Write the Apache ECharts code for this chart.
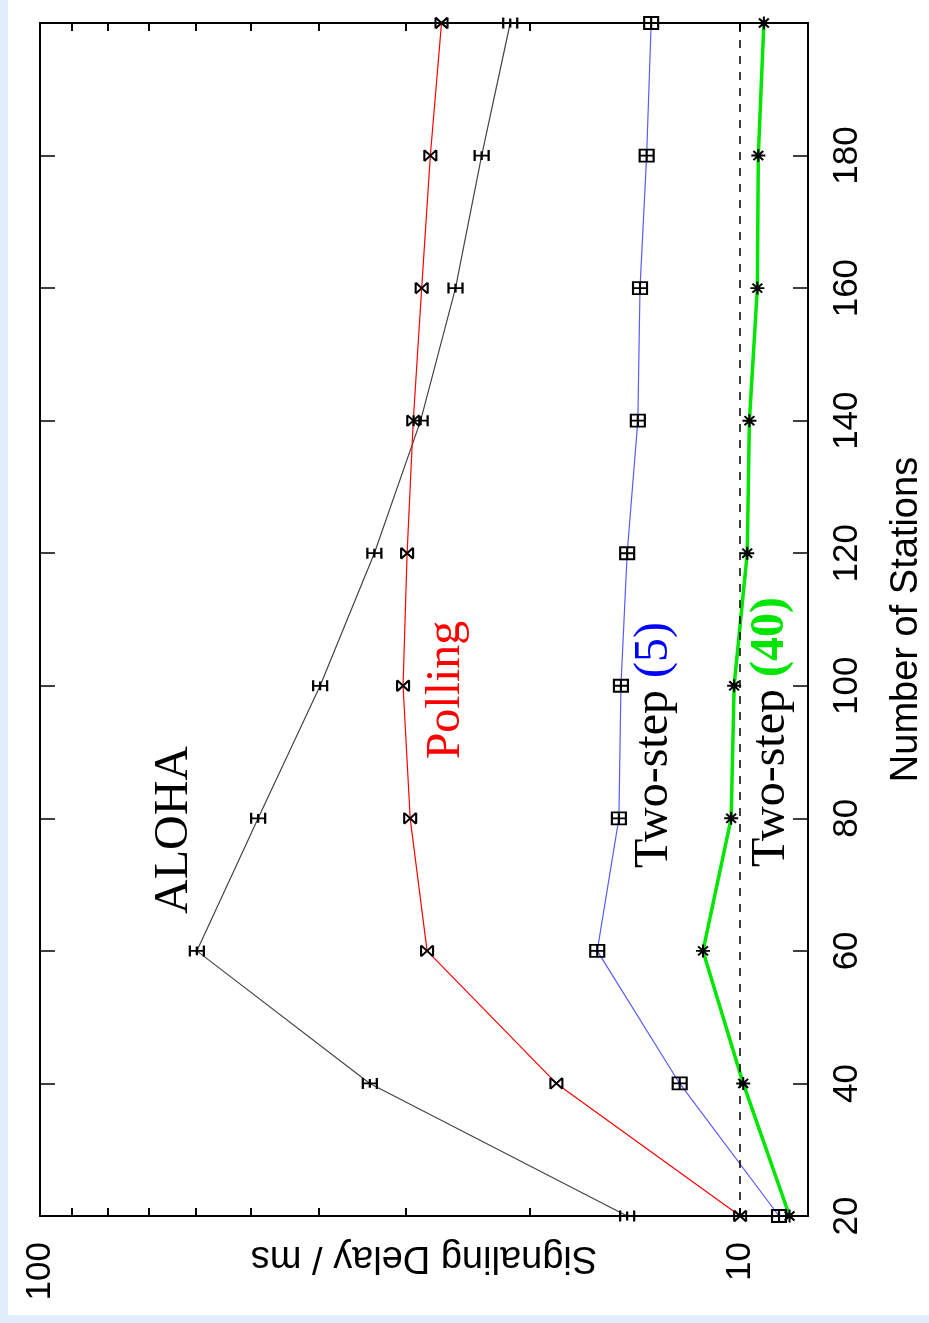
<!DOCTYPE html>
<html>
<head>
<meta charset="utf-8">
<script src="https://cdn.jsdelivr.net/npm/echarts@6/dist/echarts.min.js"></script>
<style>
  html, body { margin: 0; padding: 0; background: #fff; overflow: hidden; }
  #chart { position: absolute; left: 8px; top: 0; width: 921px; height: 1315px; background: #fff; }
  .edge { position: absolute; background: #e1effd; }
</style>
</head>
<body>
<div class="edge" style="left:0;top:0;width:8px;height:1323px"></div>
<div class="edge" style="left:0;top:1315px;width:929px;height:8px"></div>
<div id="chart"></div>
<script>
// number of stations (vertical axis in the rotated figure)
const stations = [20, 40, 60, 80, 100, 120, 140, 160, 180, 200]
// signalling delay in ms
const aloha = [14.5, 33.8, 59.7, 48.8, 39.8, 33.3, 28.6, 25.5, 23.4, 21.3]
const polling = [10.0, 18.3, 28.0, 29.6, 30.3, 29.9, 29.3, 28.5, 27.7, 26.7]
const twoStep5 = [8.8, 12.2, 16.0, 14.9, 14.8, 14.5, 14.0, 13.9, 13.6, 13.4]
const twoStep40 = [8.5, 9.9, 11.3, 10.3, 10.2, 9.77, 9.7, 9.45, 9.42, 9.25]
const delayLabels = [10, 100]
const delayTicks = [10, 20, 30, 40, 50, 60, 70, 80, 90]
const refDelay = 10

const chart = echarts.init(document.getElementById('chart'))

function pairs(values) {
  return values.map((v, i) => [v, stations[i]])
}

const markerStyle = {
  color: 'none',
  borderColor: '#000',
  borderWidth: 2,
}

function delayAxis(position, showLabel) {
  return {
    type: 'log',
    logBase: 10,
    min: 8,
    max: 100,
    inverse: true,
    position: position,
    name: showLabel ? 'Signaling Delay / ms' : '',
    nameLocation: 'middle',
    nameRotate: 180,
    nameGap: 22,
    nameMoveOverlap: false,
    nameTextStyle: {color: '#000', fontSize: 38, fontFamily: 'Liberation Sans'},
    axisLine: {show: true, lineStyle: {color: '#000', width: 2}},
    axisTick: {show: true, inside: true, length: 8, customValues: delayTicks, lineStyle: {color: '#000', width: 2}},
    axisLabel: {
      show: showLabel,
      rotate: 90,
      margin: 26,
      color: '#000',
      fontSize: 35,
      fontFamily: 'Liberation Sans',
      customValues: delayLabels,
      formatter: v => (delayLabels.indexOf(Math.round(v)) >= 0 ? String(Math.round(v)) : ''),
    },
    splitLine: {show: false},
  }
}

function stationAxis(position, showLabel) {
  return {
    type: 'value',
    min: 20,
    max: 200,
    interval: 20,
    position: position,
    name: showLabel ? 'Number of Stations' : '',
    nameLocation: 'middle',
    nameRotate: 90,
    nameGap: 80,
    nameMoveOverlap: false,
    nameTextStyle: {color: '#000', fontSize: 38, fontFamily: 'Liberation Sans'},
    axisLine: {show: true, lineStyle: {color: '#000', width: 2}},
    axisTick: {show: true, inside: true, length: 15, lineStyle: {color: '#000', width: 1.5}},
    axisLabel: {
      show: showLabel,
      rotate: 90,
      margin: 22,
      color: '#000',
      fontSize: 35,
      fontFamily: 'Liberation Sans',
      formatter: v => (v < 200 ? String(v) : ''),
    },
    splitLine: {show: false},
  }
}

chart.setOption({
  animation: false,
  grid: {left: 32, right: 121, top: 23, bottom: 99, outerBoundsMode: 'none', containLabel: false},
  xAxis: [delayAxis('bottom', true), delayAxis('top', false)],
  yAxis: [stationAxis('right', true), stationAxis('left', false)],
  series: [
    {
      name: 'ALOHA',
      type: 'line',
      data: pairs(aloha),
      lineStyle: {color: '#444', width: 1.2},
      symbol: 'path://M0,0L0,10M10,0L10,10M0,5L10,5M5,1L5,9',
      symbolSize: [14, 11],
      itemStyle: markerStyle,
    },
    {
      name: 'Polling',
      type: 'line',
      data: pairs(polling),
      lineStyle: {color: '#ff0000', width: 1.2},
      symbol: 'path://M0,0L0,10M10,0L10,10M0,0L10,10M0,10L10,0',
      symbolSize: [12, 11],
      itemStyle: markerStyle,
    },
    {
      name: 'Two-step (5)',
      type: 'line',
      data: pairs(twoStep5),
      lineStyle: {color: '#5a5aff', width: 1.2},
      symbol: 'path://M0,0L10,0L10,10L0,10ZM0,5L10,5M5,0L5,10',
      symbolSize: [14, 12],
      itemStyle: markerStyle,
    },
    {
      name: 'Two-step (40)',
      type: 'line',
      data: pairs(twoStep40),
      lineStyle: {color: '#00e600', width: 3.5},
      symbol: 'path://M5,0L5,10M0,5L10,5M1.5,1.5L8.5,8.5M1.5,8.5L8.5,1.5',
      symbolSize: [14, 13],
      itemStyle: markerStyle,
      markLine: {
        silent: true,
        symbol: 'none',
        label: {show: false},
        lineStyle: {color: '#000', type: [8, 8], width: 1.5},
        data: [{xAxis: refDelay}],
      },
    },
  ],
  graphic: [
    {
      type: 'text', x: 166, y: 830, rotation: Math.PI / 2,
      style: {text: 'ALOHA', fill: '#000', font: '48px "Liberation Serif"', align: 'center', verticalAlign: 'middle'},
    },
    {
      type: 'text', x: 438, y: 690, rotation: Math.PI / 2,
      style: {text: 'Polling', fill: '#ff0000', font: '48px "Liberation Serif"', align: 'center', verticalAlign: 'middle'},
    },
    {
      type: 'text', x: 646, y: 745, rotation: Math.PI / 2,
      style: {
        text: 'Two-step {b|(5)}', fill: '#000', font: '48px "Liberation Serif"', align: 'center', verticalAlign: 'middle',
        rich: {b: {fill: '#0000ff', font: '48px "Liberation Serif"'}},
      },
    },
    {
      type: 'text', x: 763, y: 732, rotation: Math.PI / 2,
      style: {
        text: 'Two-step {g|(40)}', fill: '#000', font: '48px "Liberation Serif"', align: 'center', verticalAlign: 'middle',
        rich: {g: {fill: '#00e600', font: 'bold 48px "Liberation Serif"'}},
      },
    },
  ],
})
</script>
</body>
</html>
